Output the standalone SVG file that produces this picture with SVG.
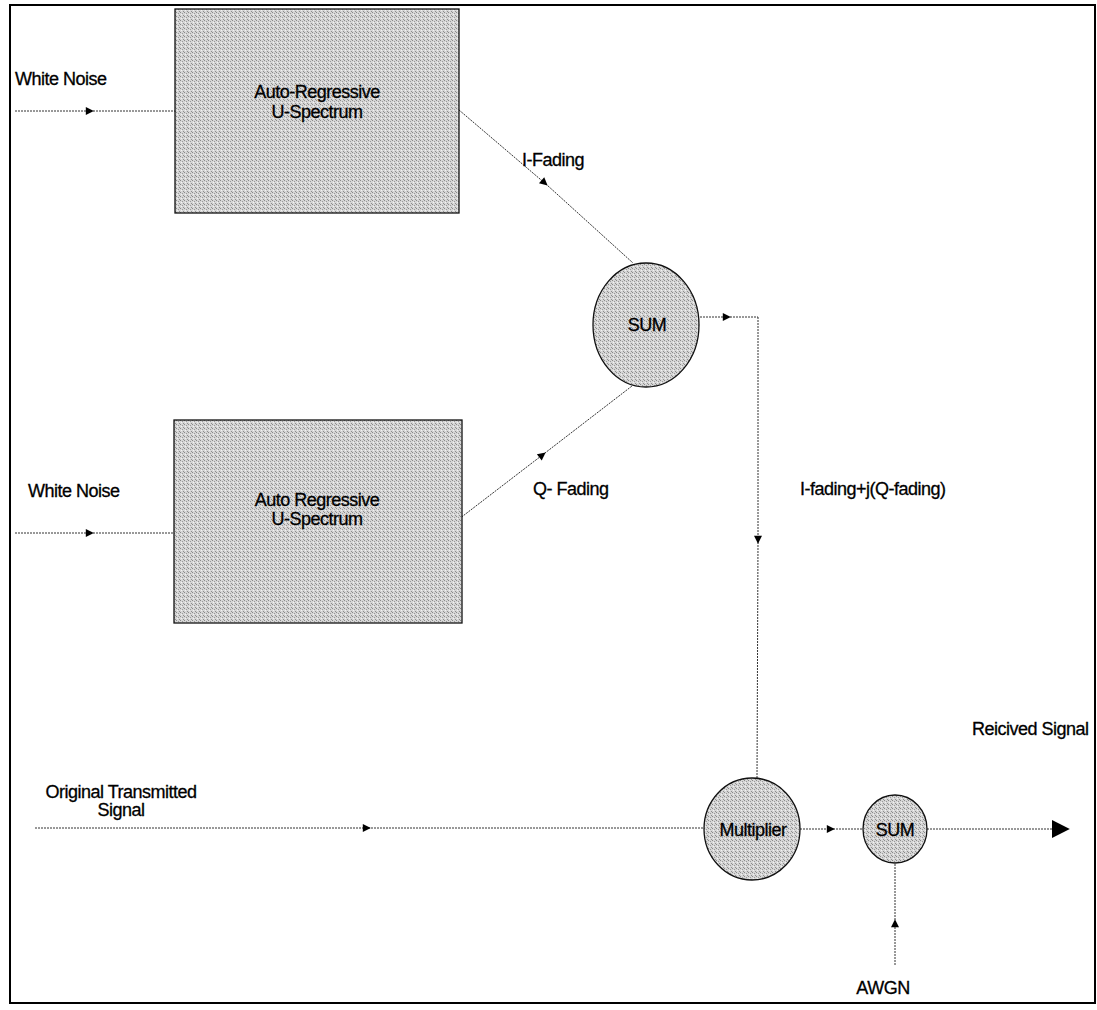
<svg xmlns="http://www.w3.org/2000/svg" width="1097" height="1010" viewBox="0 0 1097 1010">
<style>
  text { font-family: "Liberation Sans", Arial, sans-serif; font-size: 18px; fill: #000; stroke: #000; stroke-width: 0.3px; letter-spacing: -0.5px; }
  .mid { text-anchor: middle; }
  .conn { fill: none; stroke: #333; stroke-width: 1; stroke-dasharray: 2 1; }
  .box { fill: url(#dither); stroke: #111; stroke-width: 1.3; }
  .node { fill: url(#dither); stroke: #111; stroke-width: 1.3; }
</style>
<defs>
  <pattern id="dither" width="4" height="4" patternUnits="userSpaceOnUse">
    <rect width="4" height="4" fill="#d6d6d6"/>
    <rect x="0" y="0" width="1" height="1" fill="#8a8a8a"/>
    <rect x="2" y="1" width="1" height="1" fill="#9a9a9a"/>
    <rect x="1" y="2" width="1" height="1" fill="#f2f2f2"/>
    <rect x="3" y="3" width="1" height="1" fill="#8f8f8f"/>
  </pattern>
  <marker id="arr" viewBox="0 0 10 10" refX="9" refY="5" markerWidth="10" markerHeight="8" markerUnits="userSpaceOnUse" orient="auto">
    <path d="M0 0 L10 5 L0 10 z" fill="#000"/>
  </marker>
  <marker id="arrBig" viewBox="0 0 10 10" refX="9" refY="5" markerWidth="18" markerHeight="20" markerUnits="userSpaceOnUse" orient="auto">
    <path d="M0 0 L10 5 L0 10 z" fill="#000"/>
  </marker>
</defs>
<rect x="0" y="0" width="1097" height="1010" fill="#fff"/>
<rect x="10" y="5" width="1085" height="998" fill="none" stroke="#000" stroke-width="2"/>

<g id="connectors">
  <path class="conn" d="M15 111 L93 111 L175 111" marker-mid="url(#arr)"/>
  <path class="conn" d="M15 533 L93 533 L174 533" marker-mid="url(#arr)"/>
  <path class="conn" d="M459 110 L547 185 L633 263" marker-mid="url(#arr)"/>
  <path class="conn" d="M459 519 L545 453 L632 386" marker-mid="url(#arr)"/>
  <path class="conn" d="M700 317 L730 317 L758 317" marker-mid="url(#arr)"/>
  <path class="conn" d="M758 317 L758 543 L757 778" marker-mid="url(#arr)"/>
  <path class="conn" d="M35 828 L370 828 L705 828" marker-mid="url(#arr)"/>
  <path class="conn" d="M800 829 L834 829 L863 829" marker-mid="url(#arr)"/>
  <path class="conn" d="M927 829 L1068 829" marker-end="url(#arrBig)"/>
  <path class="conn" d="M895 965 L895 920 L895 863" marker-mid="url(#arr)"/>
</g>

<g id="ar1">
  <rect class="box" x="175" y="9" width="284" height="204"/>
  <text class="mid" x="317" y="98">Auto-Regressive</text>
  <text class="mid" x="317" y="118">U-Spectrum</text>
</g>
<g id="ar2">
  <rect class="box" x="174" y="420" width="288" height="203"/>
  <text class="mid" x="317" y="506">Auto Regressive</text>
  <text class="mid" x="317" y="525">U-Spectrum</text>
</g>
<g id="sum1">
  <ellipse class="node" cx="646" cy="325" rx="53" ry="62"/>
  <text class="mid" x="647" y="331">SUM</text>
</g>
<g id="multiplier">
  <ellipse class="node" cx="752" cy="829" rx="48" ry="51"/>
  <text class="mid" x="753" y="836">Multiplier</text>
</g>
<g id="sum2">
  <ellipse class="node" cx="895" cy="829" rx="32" ry="34"/>
  <text class="mid" x="895" y="836">SUM</text>
</g>

<g id="labels">
  <text x="15" y="85">White Noise</text>
  <text x="28" y="497">White Noise</text>
  <text x="522" y="166">I-Fading</text>
  <text x="533" y="495">Q- Fading</text>
  <text x="800" y="495">I-fading+j(Q-fading)</text>
  <text x="972" y="735">Reicived Signal</text>
  <text class="mid" x="121" y="798">Original Transmitted</text>
  <text class="mid" x="121" y="816">Signal</text>
  <text class="mid" x="883" y="994">AWGN</text>
</g>
</svg>
